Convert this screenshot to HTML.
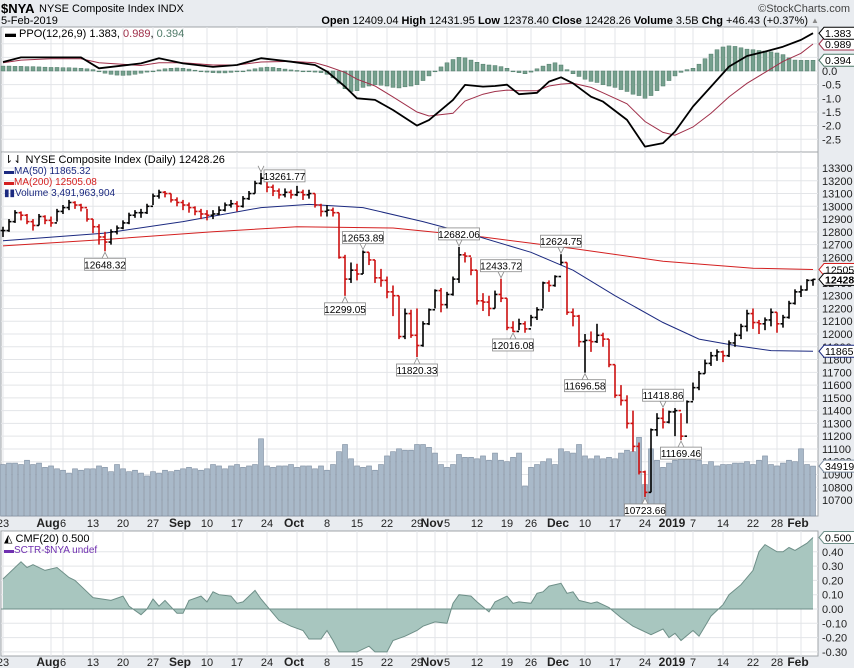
<!DOCTYPE html>
<html><head><meta charset="utf-8">
<style>
html,body{margin:0;padding:0;background:#e9ecf0;}
svg{display:block;font-family:"Liberation Sans","DejaVu Sans",sans-serif;}
</style></head>
<body>
<svg id="chart" width="854" height="668" viewBox="0 0 854 668" xmlns="http://www.w3.org/2000/svg">
<rect x="0" y="0" width="854" height="668" fill="#e9ecf0"/>
<g>
<text x="1" y="13" font-size="13" font-weight="bold" fill="#000">$NYA</text>
<text x="39" y="12" font-size="11" fill="#000">NYSE Composite Index INDX</text>
<text x="1" y="24" font-size="11" fill="#000">5-Feb-2019</text>
<text x="850" y="12" font-size="11" fill="#444" text-anchor="end">©StockCharts.com</text>
<text x="808" y="24" font-size="11" fill="#000" text-anchor="end"><tspan font-weight="bold">Open</tspan> 12409.04 <tspan font-weight="bold">High</tspan> 12431.95 <tspan font-weight="bold">Low</tspan> 12378.40 <tspan font-weight="bold">Close</tspan> 12428.26 <tspan font-weight="bold">Volume</tspan> 3.5B <tspan font-weight="bold">Chg</tspan> +46.43 (+0.37%)</text>
<text x="811" y="23" font-size="8" fill="#888">▲</text>
</g>
</svg>
<script>
// ---------- DATA ----------
const xTickLabels = ['23','Aug','6','13','20','27','Sep','10','17','24','Oct','8','15','22','29','Nov','5','12','19','26','Dec','10','17','24','2019','7','14','22','28','Feb'];
const xTickDays   = [0,8,10,15,20,25,30,34,39,44,49,54,59,64,69,72,74,79,84,88,93,97,102,107,112,115,120,125,129,133];
const xTickMonth  = [0,1,0,0,0,0,1,0,0,0,1,0,0,0,0,1,0,0,0,0,1,0,0,0,1,0,0,0,0,1];

const priceTicks = [13300,13200,13100,13000,12900,12800,12700,12600,12500,12400,12300,12200,12100,12000,11900,11800,11700,11600,11500,11400,11300,11200,11100,11000,10900,10800,10700];
const ppoTicks = [1.0,0.5,0.0,-0.5,-1.0,-1.5,-2.0,-2.5];
const ppoTickLabels = ['1.0','0.5','0.0','-0.5','-1.0','-1.5','-2.0','-2.5'];
const cmfTicks = [0.4,0.3,0.2,0.1,0.0,-0.1,-0.2,-0.3];
const cmfTickLabels = ['0.40','0.30','0.20','0.10','0.00','-0.10','-0.20','-0.30'];

const closes = [12810,12880,12950,12930,12880, 12850,12920,12890,12870,12960, 12990,13030,13010,12990,12900, 12840,12760,12720,12800,12830, 12870,12930,12950,12950,13000, 13080,13110,13100,13050,13030, 13010,12990,12960,12940, 12930,12940,12970,13010,13020, 13000,13060,13100,13180,13220, 13150,13120,13090,13110,13090, 13110,13090,13100,13010,12960, 12970,12950,12600,12430,12500, 12470,12640,12580,12440,12420, 12330,12300,11980,12160,11990, 11910,12080,12190,12340,12230, 12310,12430,12620,12610,12500, 12260,12250,12200,12310,12280, 12050,12020,12080,12040, 12130,12190,12400,12380,12450, 12560, 12170,12140,11940, 11950,11940,11990,11960,11760, 11520,11480,11300,11120,10920, 10760, 11250,11340,11310, 11390, 11400,11200,11470, 11580,11690,11770,11830,11860, 11830,11930,11990,12060,12160, 12090,12080,12110,12170, 12080,12130,12240,12330, 12345,12420,12428];
const highs = [12840,12900,12970,12960,12940, 12900,12940,12930,12920,12980, 13010,13050,13040,13020,12980, 12900,12860,12800,12820,12850, 12890,12950,12970,12980,13020, 13100,13130,13120,13100,13070, 13050,13030,13000,12980, 12970,12970,13000,13030,13050, 13040,13080,13120,13200,13262, 13210,13170,13140,13140,13130, 13160,13130,13130,13100,13020, 13010,12990,12950,12620,12560, 12550,12654,12640,12580,12510, 12450,12380,12300,12200,12190, 12200,12100,12200,12350,12360, 12330,12450,12682,12640,12600, 12500,12320,12300,12340,12433, 12280,12100,12120,12100, 12150,12210,12410,12420,12460, 12625, 12560,12200,12150, 12000,12020,12080,12010,11960, 11760,11600,11520,11400,11150, 10930, 11260,11380,11419, 11400, 11420,11380,11480, 11620,11710,11800,11860,11880, 11870,11950,12010,12080,12190, 12200,12110,12130,12200, 12170,12150,12260,12350, 12380,12430,12432];
const lows = [12760,12800,12870,12890,12860, 12810,12850,12860,12840,12880, 12940,12970,12980,12960,12880, 12790,12700,12648,12700,12780, 12820,12860,12910,12910,12940, 13010,13060,13070,13030,13000, 12970,12950,12930,12900, 12890,12900,12930,12960,12990, 12960,12990,13050,13100,13170, 13110,13080,13060,13070,13060, 13080,13050,13060,12990,12920, 12920,12920,12590,12299,12400, 12420,12470,12540,12400,12370, 12280,12140,11960,11960,11970, 11820,11900,12070,12200,12170, 12200,12300,12400,12560,12460, 12230,12180,12140,12200,12250, 12030,12016,12030,12010, 12060,12110,12200,12330,12370, 12540, 12150,12060,11900, 11697,11860,11930,11900,11740, 11500,11440,11260,11080,10900, 10724, 10760,11200,11260, 11300, 11200,11169,11300, 11480,11560,11690,11750,11790, 11780,11820,11900,11960,12020, 12040,12000,12030,12060, 12010,12050,12120,12230, 12290,12340,12378];
const volumes = [3.6,3.7,3.7,3.6,3.9,3.6,3.7,3.4,3.5,3.3, 3.2,3.0,3.3,3.2,3.3,3.3,3.5,3.4,3.1,3.6, 3.3,3.1,3.2,3.0,2.8,3.1,3.0,3.2,3.1,3.2, 3.3,3.4,3.3,3.2,3.3,3.6,3.5,3.3,3.5,3.6, 3.4,3.5,3.6,5.4,3.5,3.4,3.5,3.5,3.6,3.4, 3.5,3.5,3.3,3.5,3.2,3.6,4.5,5.0,4.0,3.5, 3.4,3.5,3.2,3.6,4.2,4.5,4.7,4.6,4.6,5.0, 5.0,4.8,4.4,3.6,3.4,3.6,4.3,4.1,4.1,4.0, 4.2,3.9,4.4,3.9,3.8,4.1,4.4,2.1,3.4,3.6, 3.8,4.0,3.6,4.7,4.5,4.4,5.0,4.2,4.0,4.2, 4.0,4.1,4.0,4.4,4.6,4.5,5.5,2.2,4.7,3.9, 3.4,3.7,3.9,4.0,4.1,4.1,3.9,3.6,3.8,3.5, 3.6,3.6,3.7,3.7,3.8,3.6,3.9,4.2,3.6,3.5, 3.7,3.9,3.8,4.7,3.6,3.49];

const ma50Days = [0,17,30,43,51,60,70,78,88,95,102,110,116,122,128,135];
const ma50Vals = [12730,12790,12880,12990,13015,12990,12880,12780,12640,12500,12300,12090,11960,11910,11870,11865];
const ma200Days = [0,17,35,49,65,80,95,110,125,135];
const ma200Vals = [12690,12740,12800,12840,12830,12760,12670,12570,12515,12505];

const annDays  = [17,43,60,57,69,76,83,85,93,97,110,113,107];
const annVals  = [12648.32,13261.77,12653.89,12299.05,11820.33,12682.06,12433.72,12016.08,12624.75,11696.58,11418.86,11169.46,10723.66];
const annAbove = [0,1,1,0,0,1,1,0,1,0,1,0,0];

const ppoDays = [0,3,8,13,16,23,26,30,35,39,43,48,52,54,57,59,62,65,69,71,75,77,80,82,84,86,89,91,93,95,98,100,104,107,110,112,115,118,121,124,127,130,133,135];
const ppoVals = [0.33,0.5,0.5,0.5,0.1,0.28,0.47,0.28,0.15,0.22,0.47,0.34,0.22,-0.02,-0.57,-1.0,-1.06,-1.43,-2.0,-1.8,-1.06,-0.51,-0.57,-0.55,-0.5,-0.85,-0.8,-0.39,-0.23,-0.45,-0.94,-1.12,-1.79,-2.77,-2.64,-2.22,-1.3,-0.57,0.16,0.55,0.71,0.89,1.14,1.383];
const sigVals = [0.3,0.4,0.45,0.45,0.3,0.2,0.3,0.3,0.22,0.22,0.33,0.35,0.3,0.18,-0.05,-0.3,-0.55,-0.95,-1.5,-1.65,-1.55,-1.1,-0.85,-0.75,-0.7,-0.72,-0.72,-0.55,-0.48,-0.45,-0.6,-0.8,-1.2,-1.85,-2.25,-2.35,-2.05,-1.55,-0.95,-0.45,-0.05,0.35,0.65,0.989];
const histVals = [0.18,0.18,0.17,0.17,0.16,0.16,0.15,0.14,0.13,0.13,0.12,0.12,0.11,0.1,0.08,0.05, -0.02,-0.08,-0.12,-0.15,-0.16,-0.15,-0.12, -0.08,-0.04,0.0,0.04,0.08,0.1,0.11,0.1,0.07,0.03,-0.01, -0.04,-0.06,-0.07,-0.07,-0.05,-0.03,0.0, 0.04,0.08,0.12,0.14,0.13,0.1,0.07, 0.04,0.02,0.0,-0.02,-0.04,-0.06, -0.12,-0.25,-0.45,-0.65,-0.75,-0.72,-0.6,-0.55,-0.5,-0.52,-0.55,-0.6,-0.62,-0.58,-0.55,-0.5,-0.35, -0.18,0.0, 0.15,0.3,0.42,0.5,0.48,0.4,0.32,0.25,0.22,0.2,0.16,0.1, 0.0,-0.06,-0.1,-0.04, 0.08,0.18,0.25,0.3,0.22, 0.05,-0.1,-0.2,-0.3,-0.38,-0.42,-0.5,-0.55,-0.6,-0.68,-0.75,-0.85,-0.9,-1.0,-0.9,-0.72,-0.55,-0.35, -0.18,-0.05,0.05,0.1,0.25, 0.45,0.62,0.78,0.88,0.92,0.9,0.85,0.8,0.78,0.75,0.73,0.7,0.66,0.6, 0.48,0.4,0.39,0.39,0.394];

const cmfDays = [0,3,4,5,7,9,11,12,14,15,18,20,21,23,24,25,26,27,29,30,31,33,34,35,36,38,39,40,42,43,45,46,48,50,51,53,54,55,56,59,61,62,64,65,67,69,70,72,74,75,76,78,79,81,82,84,85,86,88,89,90,91,93,94,95,96,98,99,101,103,105,106,108,110,111,112,113,115,116,117,118,120,121,123,125,126,127,129,130,131,132,134,135];
const cmfVals = [0.21,0.33,0.29,0.31,0.27,0.29,0.22,0.2,0.12,0.08,0.06,0.09,0.02,-0.04,0.0,0.07,0.02,0.06,-0.03,-0.03,0.06,0.09,0.05,0.12,0.1,0.09,0.04,0.05,0.13,0.07,-0.03,-0.08,-0.12,-0.15,-0.21,-0.21,-0.15,-0.22,-0.3,-0.3,-0.26,-0.3,-0.3,-0.22,-0.19,-0.15,-0.12,-0.09,-0.1,0.04,0.1,0.09,0.05,-0.02,0.05,0.09,0.04,0.05,0.04,0.11,0.12,0.16,0.18,0.11,0.12,0.06,0.04,0.05,0.01,-0.06,-0.12,-0.14,-0.18,-0.14,-0.2,-0.17,-0.22,-0.15,-0.19,-0.12,-0.05,0.03,0.1,0.17,0.27,0.4,0.45,0.4,0.4,0.43,0.41,0.46,0.5];

// ---------- LAYOUT ----------
const NS='http://www.w3.org/2000/svg';
const svg=document.getElementById('chart');
const PL=1, PR=818;
const P1={t:27,b:152}, P2={t:152,b:516}, P3={t:531,b:656};
const xOf=d=>3+d*6;
const yPrice=v=>168+(13300-v)*0.1277;
const yPpo=v=>71-v*27.3;
const yCmf=v=>609-v*143;
const yVol=v=>516-v*14.3;

function el(tag,attrs,parent){const e=document.createElementNS(NS,tag);for(const k in attrs)e.setAttribute(k,attrs[k]);(parent||svg).appendChild(e);return e;}
function txt(s,attrs,parent){const e=el('text',attrs,parent);e.textContent=s;return e;}

function panel(p,name){
  const g=el('g',{});
  
  
  const r=el('rect',{x:PL,y:p.t,width:PR-PL,height:p.b-p.t,fill:'#fff',stroke:'#a0a4a8','stroke-width':1},g);
  
  
  for(let i=0;i<xTickDays.length;i++){
    const l=el('line',{x1:xOf(xTickDays[i]),x2:xOf(xTickDays[i]),y1:p.t,y2:p.b,stroke:'#e3e5e8','stroke-width':1},g);
    
    
  }
  return g;
}
function hgrid(g,y){
  const l=el('line',{x1:PL,x2:PR,y1:y,y2:y,stroke:'#e3e5e8','stroke-width':1},g);
  
  
}
function axisLabel(s,y,name){
  const t=txt(s,{x:822,y:y+4,'font-size':11,fill:'#222'});
  
  
}
function endBox(s,y,color,bold,name){
  const g=el('g',{});
  
  
  const w=34;
  el('path',{d:`M819 ${y} L824 ${y-6} L${824+w} ${y-6} L${824+w} ${y+6} L824 ${y+6} Z`,fill:'#fff',stroke:color,'stroke-width':1},g);
  txt(s,{x:825,y:y+4,'font-size':10.5,fill:'#000','font-weight':bold?'bold':'normal'},g);
}
function xAxis(y,name){
  for(let i=0;i<xTickLabels.length;i++){
    const t=txt(xTickLabels[i],{x:xOf(xTickDays[i])-(xTickMonth[i]?3:0),y:y,'font-size':xTickMonth[i]?12:11,'font-weight':xTickMonth[i]?'bold':'normal','text-anchor':'middle',fill:'#222'});
    
    
  }
}
function linePath(days,vals,fy){return days.map((d,i)=>(i?'L':'M')+xOf(d).toFixed(1)+' '+fy(vals[i]).toFixed(1)).join(' ');}

// ---------- PPO PANEL ----------
const g1=panel(P1,'ppo-panel');
ppoTicks.forEach((v,i)=>{hgrid(g1,yPpo(v));axisLabel(ppoTickLabels[i],yPpo(v),'ppo-y-tick-label');});
histVals.forEach((v,i)=>{
  const y0=yPpo(0),y1=yPpo(v);
  const r=el('rect',{x:xOf(i)-2,y:Math.min(y0,y1),width:4,height:Math.max(0.8,Math.abs(y1-y0)),fill:'#76a08e',stroke:'#4f7a68','stroke-width':0.5},g1);
  
  
});
const sigLine=el('path',{d:linePath(ppoDays,sigVals,yPpo),fill:'none',stroke:'#a0304a','stroke-width':1},g1);


const ppoLine=el('path',{d:linePath(ppoDays,ppoVals,yPpo),fill:'none',stroke:'#000','stroke-width':1.8,'stroke-linejoin':'round'},g1);


const lg1=txt('',{x:5,y:37,'font-size':11,fill:'#000'});


lg1.innerHTML='<tspan font-weight="bold">▬</tspan> PPO(12,26,9) 1.383, <tspan fill="#a0304a">0.989</tspan>, <tspan fill="#4f7a68">0.394</tspan>';
endBox('0.394',yPpo(0.394),'#4f7a68',false,'ppo-histogram-value-box');
endBox('0.989',yPpo(0.989),'#a0304a',false,'ppo-signal-value-box');
endBox('1.383',yPpo(1.383),'#000',false,'ppo-value-box');

// ---------- PRICE PANEL ----------
const g2=panel(P2,'price-panel');
priceTicks.forEach(v=>{hgrid(g2,yPrice(v));axisLabel(String(v),yPrice(v),'price-y-tick-label');});
volumes.forEach((v,i)=>{
  const r=el('rect',{x:xOf(i)-2.5,y:yVol(v),width:5,height:516-yVol(v),fill:'#a9b9c9',stroke:'#7d8da0','stroke-width':0.6},g2);
  
  
});
const m200=el('path',{d:linePath(ma200Days,ma200Vals,yPrice),fill:'none',stroke:'#d42020','stroke-width':1},g2);


const m50=el('path',{d:linePath(ma50Days,ma50Vals,yPrice),fill:'none',stroke:'#1c2a80','stroke-width':1},g2);


closes.forEach((c,i)=>{
  const o=i?closes[i-1]:c;
  const col=(i===0||c>=o)?'#000':'#cc1010';
  const x=xOf(i);
  const b=el('g',{stroke:col,'stroke-width':1.6},g2);
  
  
  el('line',{x1:x,x2:x,y1:yPrice(highs[i]),y2:yPrice(lows[i])},b);
  el('line',{x1:x-2.5,x2:x,y1:yPrice(o),y2:yPrice(o)},b);
  el('line',{x1:x,x2:x+2.5,y1:yPrice(c),y2:yPrice(c)},b);
});
annDays.forEach((d,i)=>{
  const g=el('g',{},g2);
  
  
  const s=annVals[i].toFixed(2);
  const x=xOf(d), w=41;
  let bx=x-w/2, by;
  if(annAbove[i]){const yy=yPrice(highs[d]);by=yy-19;el('path',{d:`M${x-3} ${by+12} L${x} ${yy-1} L${x+3} ${by+12}`,fill:'#fff',stroke:'#888','stroke-width':0.8},g);}
  else{const yy=yPrice(lows[d]);by=yy+7;el('path',{d:`M${x-3} ${by} L${x} ${yy+1} L${x+3} ${by}`,fill:'#fff',stroke:'#888','stroke-width':0.8},g);}
  if(i===1){bx=x+3;by=yPrice(highs[d])-3;}
  el('rect',{x:bx,y:by,width:w,height:12,fill:'#fff',stroke:'#888','stroke-width':0.8},g);
  txt(s,{x:bx+w/2,y:by+10,'font-size':10,'text-anchor':'middle',fill:'#000'},g);
});
const lg2=el('g',{'font-size':11});


txt('⇂⇃ NYSE Composite Index (Daily) 12428.26',{x:4,y:163,fill:'#000'},lg2);
txt('▬MA(50) 11865.32',{x:4,y:174,fill:'#1c2a80','font-size':10},lg2);
txt('▬MA(200) 12505.08',{x:4,y:185,fill:'#d42020','font-size':10},lg2);
txt('▮▮Volume 3,491,963,904',{x:4,y:196,fill:'#1c2a80','font-size':10},lg2);
endBox('12505',yPrice(12505),'#d42020',false,'ma200-value-box');
endBox('12428',yPrice(12428),'#000',true,'close-value-box');
endBox('11865',yPrice(11865),'#1c2a80',false,'ma50-value-box');
endBox('349190',yVol(3.49),'#7d8da0',false,'volume-value-box');
xAxis(527,'price-x-axis');

// ---------- CMF PANEL ----------
const g3=panel(P3,'cmf-panel');
cmfTicks.forEach((v,i)=>{hgrid(g3,yCmf(v));axisLabel(cmfTickLabels[i],yCmf(v),'cmf-y-tick-label');});
const y0=yCmf(0);
const area=el('path',{d:linePath(cmfDays,cmfVals,yCmf)+` L${xOf(cmfDays[cmfDays.length-1])} ${y0} L${xOf(cmfDays[0])} ${y0} Z`,fill:'#a8c6bf',stroke:'none'},g3);


const cl=el('path',{d:linePath(cmfDays,cmfVals,yCmf),fill:'none',stroke:'#6e8f88','stroke-width':1},g3);


const zl=el('line',{x1:PL,x2:xOf(135),y1:y0,y2:y0,stroke:'#6e8f88','stroke-width':1},g3);


const lg3=el('g',{'font-size':11});


txt('◭ CMF(20) 0.500',{x:4,y:542,fill:'#000'},lg3);
txt('▬SCTR-$NYA undef',{x:4,y:553,fill:'#7030b0','font-size':10},lg3);
endBox('0.500',yCmf(0.5),'#6e8f88',false,'cmf-value-box');
xAxis(666,'cmf-x-axis');
</script>
</body></html>
